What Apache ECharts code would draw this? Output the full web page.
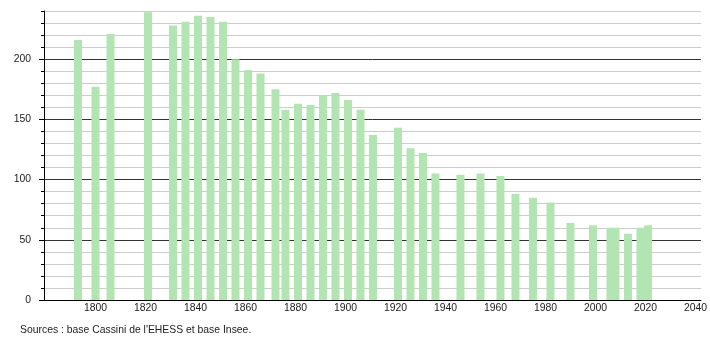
<!DOCTYPE html>
<html>
<head>
<meta charset="utf-8">
<script src="https://cdn.jsdelivr.net/npm/echarts@6/dist/echarts.min.js"></script>
<style>html,body{margin:0;padding:0;background:#fff}#c{width:710px;height:340px}</style>
</head>
<body>
<div id="c"></div>
<script>
const years = [1793,1800,1806,1821,1831,1836,1841,1846,1851,1856,1861,1866,1872,1876,1881,1886,1891,1896,1901,1906,1911,1921,1926,1931,1936,1946,1954,1962,1968,1975,1982,1990,1999,2006,2008,2013,2018,2021];
const population = [216,177,221,239,228,231,236,235,231,200,191,188,175,158,163,162,170,172,166,158,137,143,126,122,105,104,105,103,88,85,81,64,62,60,60,55,60,62];
const xTicks = [1800,1820,1840,1860,1880,1900,1920,1940,1960,1980,2000,2020,2040];
const yTicks = [0,50,100,150,200];
const sourceText = "Sources : base Cassini de l'EHESS et base Insee.";

const font = 'Liberation Sans';
const fs = 10.4;
const chart = echarts.init(document.getElementById('c'), null, {renderer: 'canvas'});
chart.setOption({
  animation: false,
  grid: {left: 44, right: 9, top: 11, bottom: 40, containLabel: false},
  xAxis: {
    type: 'value', min: 1779.4, max: 2042.2,
    axisLine: {show: true, lineStyle: {color: '#000', width: 1}},
    axisTick: {show: false},
    splitLine: {show: false},
    axisLabel: {customValues: xTicks, formatter: v => String(v), color: '#222', fontFamily: font, fontSize: fs, margin: 3}
  },
  yAxis: [{
    type: 'value', min: 0, max: 240, interval: 10,
    axisLine: {show: true, lineStyle: {color: '#000'}},
    axisTick: {show: true, length: 3, lineStyle: {color: '#000'}},
    axisLabel: {show: false},
    splitLine: {show: true, lineStyle: {color: ['#333', '#ccc', '#ccc', '#ccc', '#ccc'], width: 1}}
  }, {
    type: 'value', min: 0, max: 240, position: 'left',
    axisLine: {show: false},
    axisTick: {show: true, length: 5, customValues: yTicks, lineStyle: {color: '#000'}},
    axisLabel: {customValues: yTicks, formatter: v => String(v), color: '#222', fontFamily: font, fontSize: fs, margin: 13},
    splitLine: {show: false}
  }],
  series: [{
    type: 'bar', yAxisIndex: 0, barWidth: 8,
    itemStyle: {color: '#b2e5b2'},
    data: years.map((y, i) => [y, population[i]])
  }],
  graphic: [{
    type: 'text', left: 20, top: 325,
    style: {text: sourceText, fill: '#222', font: fs + 'px "Liberation Sans"'}
  }]
});
</script>
</body>
</html>
